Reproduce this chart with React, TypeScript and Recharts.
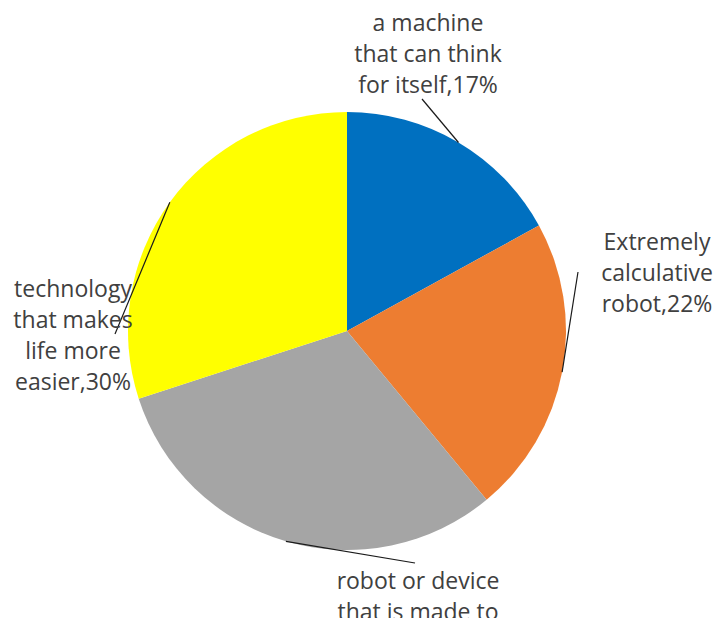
import { PieChart, Pie, Cell } from 'recharts';

const CATEGORIES = [
  'a machine that can think for itself',
  'Extremely calculative robot',
  'robot or device that is made to',
  'technology that makes life more easier',
];
const VALUES = [17, 22, 31, 30];
const LABEL_LINES = [
  ['a machine', 'that can think', 'for itself,17%'],
  ['Extremely', 'calculative', 'robot,22%'],
  ['robot or device', 'that is made to'],
  ['technology', 'that makes', 'life more', 'easier,30%'],
];

const COLORS = ['#0070C0', '#ED7D31', '#A5A5A5', '#FFFF00'];

// label block centre (dx, first line dy) and leader end, relative to pie centre
const LABEL_LAYOUT = [
  { tx: 81, ty: -309, lx: 75, ly: -232 },
  { tx: 310, ty: -90, lx: 231, ly: -59 },
  { tx: 71, ty: 249, lx: 68, ly: 232 },
  { tx: -274, ty: -43, lx: -232, ly: 3 },
];

const LINE_GAP = 31;
const RADIAN = Math.PI / 180;

const data = CATEGORIES.map((name, i) => ({ name, value: VALUES[i] }));

function renderLabel(props: any) {
  const { cx, cy, midAngle, outerRadius, index } = props;
  const lay = LABEL_LAYOUT[index];
  const sx = cx + outerRadius * Math.cos(-midAngle * RADIAN);
  const sy = cy + outerRadius * Math.sin(-midAngle * RADIAN);
  return (
    <g key={`lbl-${index}`}>
      <line x1={sx} y1={sy} x2={cx + lay.lx} y2={cy + lay.ly} stroke="#1a1a1a" strokeWidth={1.2} />
      {LABEL_LINES[index].map((t, j) => (
        <text
          key={j}
          x={cx + lay.tx}
          y={cy + lay.ty + j * LINE_GAP}
          textAnchor="middle"
          dominantBaseline="central"
          fill="#404040"
          fontSize={23}
          fontFamily="'Open Sans', sans-serif"
        >
          {t}
        </text>
      ))}
    </g>
  );
}

export default function App() {
  return (
    <div style={{ position: 'absolute', left: 0, top: 0, width: 715, height: 618, background: '#fff', overflow: 'hidden' }}>
      <PieChart width={715} height={618} margin={{ top: 0, right: 0, bottom: 0, left: 0 }}>
        <Pie
          data={data}
          dataKey="value"
          nameKey="name"
          cx={347}
          cy={331}
          outerRadius={219}
          startAngle={90}
          endAngle={-270}
          stroke="none"
          labelLine={false}
          label={renderLabel}
          isAnimationActive={false}
        >
          {data.map((d, i) => (
            <Cell key={d.name} fill={COLORS[i]} />
          ))}
        </Pie>
      </PieChart>
    </div>
  );
}
